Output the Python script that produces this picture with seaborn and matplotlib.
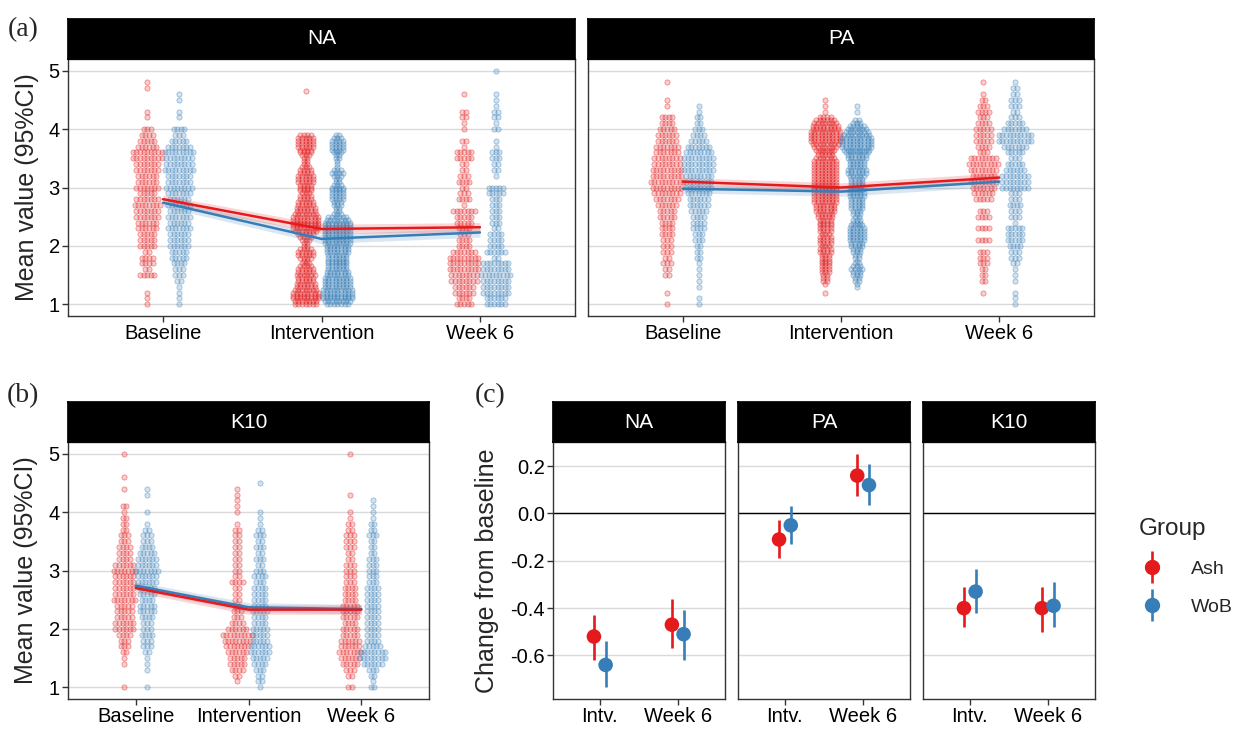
import numpy as np
import pandas as pd
import matplotlib
matplotlib.use("Agg")
import matplotlib.pyplot as plt
import seaborn as sns
from matplotlib.lines import Line2D
from matplotlib.colors import to_rgba

sns.set_theme(style="white")
plt.rcParams['font.family'] = ['Liberation Sans', 'DejaVu Sans']

# ---- data ----
times = ["Baseline", "Intervention", "Week 6"]
groups = ["Ash", "WoB"]
palette = {"Ash": "#E41A1C", "WoB": "#377EB8"}

# score levels (1.0 .. 5.0)
levels_10 = np.round(np.arange(1.0, 5.0001, 0.1), 2)    # 41 levels
levels_05 = np.round(np.arange(1.0, 5.0001, 0.05), 2)   # 81 levels

# counts per level, from 1.0 upwards
na_base_ash = [1, 1, 1, 0, 0, 5, 2, 4, 4, 2, 5, 5, 5, 6, 6, 7, 7, 8, 7, 5, 7, 6, 6, 7, 7, 9, 9, 6, 5, 4, 3, 0, 1, 1, 0, 0, 0, 1, 1, 0, 0]
na_base_wob = [1, 1, 1, 1, 2, 3, 3, 4, 5, 5, 6, 6, 6, 7, 6, 7, 6, 7, 6, 7, 8, 7, 7, 9, 8, 8, 9, 7, 5, 3, 4, 0, 1, 1, 0, 1, 1, 0, 0, 0, 0]
na_int_ash = [7, 7, 8, 8, 8, 7, 6, 6, 5, 5,
              6, 5, 5, 4, 3, 2, 4, 5, 5, 4,
              2, 2, 3, 4, 5, 7, 8, 8, 8, 8,
              8, 7, 6, 6, 5, 5, 4, 4, 3, 4,
              4, 4, 5, 5, 5, 4, 4, 3, 2, 2,
              2, 3, 4, 4, 5, 5, 5, 5, 4, 0,
              0, 0, 0, 0, 0, 0, 0, 0, 0, 0,
              0, 0, 0, 1, 0, 0, 0, 0, 0, 0,
              0]
na_int_wob = [7, 8, 9, 9, 9, 9, 8, 8, 8, 8,
              7, 7, 6, 6, 6, 6, 6, 6, 7, 7,
              7, 8, 8, 8, 8, 8, 8, 8, 8, 7,
              6, 3, 2, 2, 3, 3, 4, 4, 4, 4,
              4, 3, 2, 2, 3, 4, 3, 1, 1, 1,
              2, 2, 3, 4, 4, 4, 4, 3, 2, 0,
              0, 0, 0, 0, 0, 0, 0, 0, 0, 0,
              0, 0, 0, 0, 0, 0, 0, 0, 0, 0,
              0]
na_wk6_ash = [5, 4, 6, 6, 8, 8, 9, 9, 9, 7, 4, 4, 3, 4, 5, 5, 7, 1, 4, 3, 2, 4, 3, 2, 2, 5, 5, 1, 2, 0, 1, 1, 2, 2, 0, 0, 1, 0, 0, 0, 0]
na_wk6_wob = [6, 6, 8, 8, 8, 9, 8, 8, 2, 6, 4, 4, 4, 2, 3, 3, 3, 3, 3, 5, 5, 0, 1, 2, 2, 3, 3, 1, 1, 0, 2, 1, 2, 2, 1, 1, 1, 0, 0, 0, 1]

pa_base_ash = [1, 0, 1, 0, 0, 2, 2, 3, 2, 3, 3, 3, 4, 4, 4, 5, 5, 6, 7, 8, 9, 10, 9, 9, 8, 8, 7, 7, 6, 6, 5, 4, 4, 0, 1, 1, 0, 0, 1, 0, 0]
pa_base_wob = [1, 1, 0, 1, 1, 1, 1, 1, 2, 2, 2, 3, 3, 4, 4, 4, 5, 6, 6, 7, 8, 8, 8, 9, 9, 9, 8, 7, 5, 4, 3, 2, 2, 1, 1, 0, 0, 0, 0, 0, 0]
pa_int_ash = [0, 0, 0, 0, 1, 0, 0, 1, 2, 2,
              2, 3, 3, 3, 3, 3, 3, 3, 4, 4,
              3, 4, 4, 4, 3, 4, 4, 4, 4, 4,
              5, 5, 6, 6, 6, 7, 7, 7, 7, 7,
              7, 7, 7, 7, 7, 7, 7, 7, 7, 7,
              6, 5, 5, 6, 7, 8, 9, 9, 9, 9,
              8, 8, 7, 6, 4, 0, 1, 0, 1, 0,
              1, 0, 0, 0, 0, 0, 0, 0, 0, 0,
              0]
pa_int_wob = [0, 0, 0, 0, 0, 0, 1, 1, 2, 2,
              3, 3, 4, 3, 2, 1, 2, 2, 3, 3,
              4, 4, 5, 5, 5, 5, 5, 4, 3, 3,
              2, 3, 3, 4, 4, 4, 4, 5, 5, 4,
              5, 4, 4, 4, 5, 6, 6, 5, 5, 5,
              6, 6, 7, 8, 9, 9, 9, 9, 8, 7,
              6, 5, 3, 2, 0, 0, 1, 0, 1, 0,
              0, 0, 0, 0, 0, 0, 0, 0, 0, 0,
              0]
pa_wk6_ash = [0, 0, 1, 0, 2, 2, 2, 3, 3, 3, 0, 4, 0, 4, 0, 4, 3, 0, 5, 6, 7, 8, 7, 8, 9, 8, 3, 4, 5, 5, 5, 4, 3, 4, 3, 2, 1, 0, 1, 0, 0]
pa_wk6_wob = [1, 1, 1, 0, 1, 1, 1, 2, 3, 3, 4, 5, 5, 5, 1, 3, 3, 4, 3, 3, 8, 8, 8, 6, 5, 3, 5, 7, 10, 10, 7, 5, 3, 2, 3, 3, 2, 2, 1, 0, 0]

k10_base_ash = [1, 0, 0, 0, 1, 1, 2, 3, 3, 4, 6, 6, 5, 5, 5, 7, 6, 6, 6, 6, 7, 6, 4, 4, 4, 3, 3, 2, 2, 2, 1, 2, 0, 0, 1, 0, 1, 0, 0, 0, 1]
k10_base_wob = [1, 0, 0, 1, 1, 1, 2, 3, 3, 4, 3, 3, 4, 5, 5, 4, 5, 5, 6, 6, 7, 6, 6, 5, 4, 3, 3, 2, 1, 0, 1, 0, 0, 1, 1, 0, 0, 0, 0, 0, 0]
k10_int_ash = [0, 1, 2, 4, 5, 5, 6, 7, 8, 9, 6, 4, 3, 3, 2, 2, 2, 2, 4, 2, 2, 2, 2, 2, 2, 2, 2, 2, 1, 0, 1, 1, 1, 1, 1, 0, 0, 0, 0, 0, 0]
k10_int_wob = [1, 2, 2, 3, 4, 5, 6, 6, 5, 5, 5, 4, 4, 5, 4, 4, 4, 4, 3, 4, 3, 2, 3, 2, 3, 2, 3, 2, 1, 1, 1, 0, 0, 0, 0, 1, 0, 0, 0, 0, 0]
k10_wk6_ash = [2, 0, 2, 3, 5, 6, 7, 6, 6, 5, 5, 4, 5, 5, 5, 4, 4, 4, 3, 3, 3, 3, 2, 2, 3, 3, 3, 2, 2, 1, 1, 0, 0, 1, 0, 0, 0, 0, 0, 0, 1]
k10_wk6_wob = [2, 1, 2, 3, 6, 8, 8, 5, 4, 4, 4, 4, 4, 4, 4, 4, 4, 4, 3, 3, 3, 3, 3, 2, 2, 2, 3, 2, 2, 1, 1, 1, 1, 0, 0, 0, 0, 0, 0, 0, 0]

# group means with 95% CI half-width (Baseline, Intervention, Week 6)
na_mean_ash = [2.80, 2.29, 2.32]
na_mean_wob = [2.74, 2.12, 2.23]
pa_mean_ash = [3.10, 3.00, 3.17]
pa_mean_wob = [2.98, 2.93, 3.10]
k10_mean_ash = [2.70, 2.33, 2.33]
k10_mean_wob = [2.74, 2.37, 2.34]
ci_half = [0.07, 0.08, 0.08]

# (c) change from baseline, order: NA Intv, NA Wk6, PA Intv, PA Wk6, K10 Intv, K10 Wk6
chg_measures = ["NA", "NA", "PA", "PA", "K10", "K10"]
chg_times = ["Intv.", "Week 6", "Intv.", "Week 6", "Intv.", "Week 6"]
chg_ash = [-0.52, -0.47, -0.11, 0.16, -0.40, -0.40]
chg_ash_lo = [-0.62, -0.57, -0.19, 0.075, -0.48, -0.50]
chg_ash_hi = [-0.43, -0.36, -0.027, 0.25, -0.31, -0.31]
chg_wob = [-0.64, -0.51, -0.05, 0.12, -0.33, -0.39]
chg_wob_lo = [-0.735, -0.62, -0.13, 0.034, -0.42, -0.48]
chg_wob_hi = [-0.54, -0.41, 0.03, 0.21, -0.235, -0.29]

dists = {
    "NA": {"Ash": [(levels_10, na_base_ash), (levels_05, na_int_ash), (levels_10, na_wk6_ash)],
           "WoB": [(levels_10, na_base_wob), (levels_05, na_int_wob), (levels_10, na_wk6_wob)]},
    "PA": {"Ash": [(levels_10, pa_base_ash), (levels_05, pa_int_ash), (levels_10, pa_wk6_ash)],
           "WoB": [(levels_10, pa_base_wob), (levels_05, pa_int_wob), (levels_10, pa_wk6_wob)]},
    "K10": {"Ash": [(levels_10, k10_base_ash), (levels_10, k10_int_ash), (levels_10, k10_wk6_ash)],
            "WoB": [(levels_10, k10_base_wob), (levels_10, k10_int_wob), (levels_10, k10_wk6_wob)]},
}
means = {"NA": {"Ash": na_mean_ash, "WoB": na_mean_wob},
         "PA": {"Ash": pa_mean_ash, "WoB": pa_mean_wob},
         "K10": {"Ash": k10_mean_ash, "WoB": k10_mean_wob}}

# ---- layout ----
W, H = 1237, 729
fig = plt.figure(figsize=(W / 100, H / 100), dpi=100)
EDGE = "#333333"


def px_axes(l, t, r, b):
    return fig.add_axes([l / W, 1 - b / H, (r - l) / W, (b - t) / H])


def add_strip(ax, label):
    pos = ax.get_position()
    s = fig.add_axes([pos.x0, pos.y1, pos.width, 40 / H])
    s.set_facecolor("black")
    s.set_xticks([])
    s.set_yticks([])
    for sp in s.spines.values():
        sp.set_color("black")
    s.text(0.5, 0.5, label, color="white", ha="center", va="center",
           fontsize=15, transform=s.transAxes)


def style_axes(ax, show_y=True):
    for sp in ax.spines.values():
        sp.set_color(EDGE)
        sp.set_linewidth(1.0)
    ax.yaxis.grid(True, color="#dadada", lw=1.0)
    ax.xaxis.grid(False)
    ax.set_axisbelow(True)
    ax.tick_params(axis="both", which="major", length=4, width=1, color=EDGE,
                   labelsize=14.5, labelcolor="black", pad=2,
                   bottom=True, left=show_y)
    if not show_y:
        ax.tick_params(axis="y", labelleft=False)


def swarm_panel(ax, measure, show_y=True):
    width_px = ax.get_position().width * W
    step = 3.6 / (width_px / 3.2)
    dodge = {"Ash": -0.1, "WoB": 0.1}
    for g in groups:
        xs, ys = [], []
        for ti, (lev, cnt) in enumerate(dists[measure][g]):
            for v, n in zip(lev, cnt):
                for k in range(n):
                    xs.append(ti + dodge[g] + (k - (n - 1) / 2) * step)
                    ys.append(v)
        c = palette[g]
        ax.scatter(xs, ys, s=14, facecolors=to_rgba(c, 0.22),
                   edgecolors=to_rgba(c, 0.45), linewidths=0.6, zorder=2)
    mdf = pd.DataFrame([(ti, g, m) for g in groups for ti, m in enumerate(means[measure][g])],
                       columns=["pos", "group", "mean"])
    for g in ["WoB", "Ash"]:
        sub = mdf[mdf.group == g]
        ax.fill_between(sub["pos"], sub["mean"] - np.array(ci_half), sub["mean"] + np.array(ci_half),
                        color=palette[g], alpha=0.18, lw=0, zorder=3)
    for g in ["WoB", "Ash"]:
        sns.lineplot(data=mdf[mdf.group == g], x="pos", y="mean", color=palette[g],
                     lw=1.8, ax=ax, zorder=4, legend=False)
    ax.set_xlim(-0.6, 2.6)
    ax.set_ylim(0.8, 5.2)
    ax.set_xticks([0, 1, 2])
    ax.set_xticklabels(times)
    ax.set_yticks([1, 2, 3, 4, 5])
    ax.set_xlabel("")
    ax.set_ylabel("")
    style_axes(ax, show_y)
    add_strip(ax, measure)


ax_na = px_axes(68, 59, 575, 316)
swarm_panel(ax_na, "NA")
ax_na.set_ylabel("Mean value (95%CI)", fontsize=18, va="center")
ax_na.yaxis.set_label_coords((27 - 68) / 507, 0.5)

ax_pa = px_axes(588, 59, 1094, 316)
swarm_panel(ax_pa, "PA", show_y=False)

ax_k10 = px_axes(68, 442, 429, 699)
swarm_panel(ax_k10, "K10")
ax_k10.set_ylabel("Mean value (95%CI)", fontsize=18, va="center")
ax_k10.yaxis.set_label_coords((26 - 68) / 361, 0.5)

# ---- (c) change from baseline ----
cdf = pd.DataFrame({
    "measure": chg_measures * 2,
    "time": chg_times * 2,
    "group": ["Ash"] * 6 + ["WoB"] * 6,
    "est": chg_ash + chg_wob,
    "lo": chg_ash_lo + chg_wob_lo,
    "hi": chg_ash_hi + chg_wob_hi,
})
cdf["x"] = cdf["time"].map({"Intv.": 0, "Week 6": 1}) + cdf["group"].map({"Ash": -0.075, "WoB": 0.075})

c_boxes = {"NA": (553, 724.5), "PA": (738, 910), "K10": (923, 1094.5)}
for i, m in enumerate(["NA", "PA", "K10"]):
    l, r = c_boxes[m]
    ax = px_axes(l, 442, r, 699)
    sub = cdf[cdf.measure == m]
    ax.axhline(0, color="black", lw=1.0, zorder=1)
    for g in groups:
        gs = sub[sub.group == g]
        ax.vlines(gs["x"], gs["lo"], gs["hi"], color=palette[g], lw=1.9, zorder=2)
    sns.scatterplot(data=sub, x="x", y="est", hue="group", palette=palette, s=110,
                    linewidth=0, legend=False, ax=ax, zorder=3)
    ax.set_xlim(-0.6, 1.6)
    ax.set_ylim(-0.784, 0.302)
    ax.set_xticks([0, 1])
    ax.set_xticklabels(["Intv.", "Week 6"])
    ax.set_yticks([-0.6, -0.4, -0.2, 0.0, 0.2])
    ax.set_yticklabels(["-0.6", "-0.4", "-0.2", "0.0", "0.2"])
    ax.set_xlabel("")
    ax.set_ylabel("")
    style_axes(ax, show_y=(i == 0))
    add_strip(ax, m)
    if i == 0:
        ax.set_ylabel("Change from baseline", fontsize=18, va="center")
        ax.yaxis.set_label_coords((487 - 553) / 171.5, 0.5)

# ---- legend ----
handles = [(Line2D([], [], ls="", marker="|", ms=23, mew=1.9, color=palette[g]),
            Line2D([], [], ls="", marker="o", ms=10, color=palette[g])) for g in groups]
leg = fig.legend(handles, groups, title="Group", loc="upper left",
                 bbox_to_anchor=(1121 / W, 1 - 500 / H), frameon=False,
                 fontsize=14, title_fontsize=17.5, handlelength=1.4,
                 handletextpad=1.3, labelspacing=1.05)
leg._legend_box.align = "left"

# panel tags
for tag, x, y in [("(a)", 8, 30), ("(b)", 7, 396), ("(c)", 475, 396)]:
    fig.text(x / W, 1 - y / H, tag, family=["Liberation Serif"], fontsize=20,
             ha="left", va="center")

fig.savefig("out.png", dpi=100)
